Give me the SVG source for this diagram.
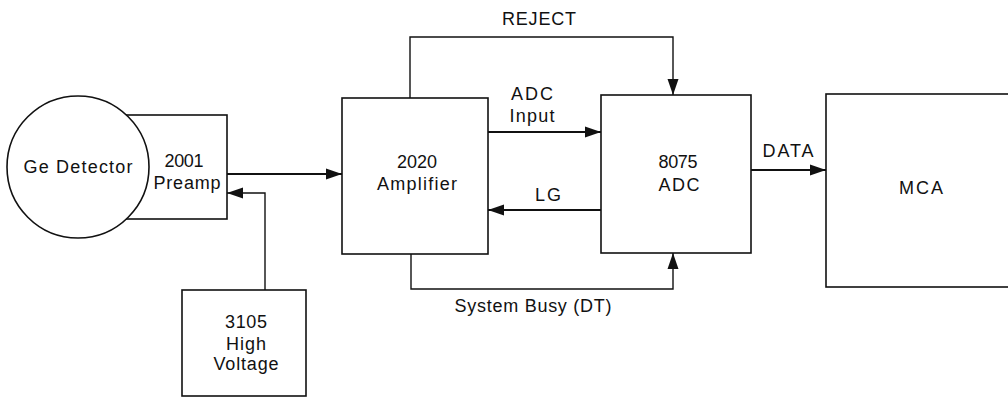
<svg xmlns="http://www.w3.org/2000/svg" width="1008" height="397" viewBox="0 0 1008 397">
<defs>
<style>
.box{fill:#fff;stroke:#111;stroke-width:1.6}
.ln{fill:none;stroke:#111;stroke-width:1.4}
.thick{fill:none;stroke:#111;stroke-width:2.2}
text{font-family:"Liberation Sans",Arial,sans-serif;font-size:18px;fill:#111;text-anchor:middle}
</style>
<marker id="ah" markerUnits="userSpaceOnUse" markerWidth="17" markerHeight="12" refX="16" refY="6" orient="auto">
<path d="M0,0.5 L16,6 L0,11.5 z" fill="#111"/>
</marker>
</defs>
<rect width="1008" height="397" fill="#fff"/>
<g id="preamp">
<rect class="box" x="115" y="115" width="112" height="104"/>
<text x="184" y="167" textLength="39" lengthAdjust="spacing">2001</text>
<text x="187" y="189" textLength="67" lengthAdjust="spacing">Preamp</text>
</g>
<g id="ge-detector">
<circle class="box" cx="78" cy="167" r="71"/>
<text x="78" y="173" textLength="109" lengthAdjust="spacing">Ge Detector</text>
</g>
<g id="high-voltage">
<rect class="box" x="182" y="290" width="124" height="106"/>
<text x="246" y="328" textLength="42" lengthAdjust="spacing">3105</text>
<text x="246" y="350" textLength="40" lengthAdjust="spacing">High</text>
<text x="246" y="370" textLength="65" lengthAdjust="spacing">Voltage</text>
</g>
<g id="amplifier">
<rect class="box" x="342" y="98" width="146" height="156"/>
<text x="417" y="168" textLength="40" lengthAdjust="spacing">2020</text>
<text x="417" y="190" textLength="80" lengthAdjust="spacing">Amplifier</text>
</g>
<g id="adc">
<rect class="box" x="601" y="95" width="150" height="158"/>
<text x="678" y="168" textLength="39" lengthAdjust="spacing">8075</text>
<text x="679" y="191" textLength="41" lengthAdjust="spacing">ADC</text>
</g>
<g id="mca">
<rect class="box" x="826" y="94" width="190" height="193"/>
<text x="921" y="194" textLength="44" lengthAdjust="spacing">MCA</text>
</g>
<g id="connectors">
<line class="thick" x1="227" y1="174" x2="342" y2="174" marker-end="url(#ah)"/>
<polyline class="ln" points="265,290 265,193 227,193" marker-end="url(#ah)"/>
<polyline class="ln" points="410,98 410,37 673,37 673,95" marker-end="url(#ah)"/>
<line class="thick" x1="488" y1="132" x2="601" y2="132" marker-end="url(#ah)"/>
<line class="thick" x1="601" y1="210" x2="488" y2="210" marker-end="url(#ah)"/>
<polyline class="ln" points="411,254 411,289 673,289 673,253" marker-end="url(#ah)"/>
<line class="thick" x1="751" y1="170" x2="826" y2="170" marker-end="url(#ah)"/>
</g>
<g id="labels">
<text x="539" y="25" textLength="74" lengthAdjust="spacing">REJECT</text>
<text x="532" y="100" textLength="42" lengthAdjust="spacing">ADC</text>
<text x="532" y="122" textLength="45" lengthAdjust="spacing">Input</text>
<text x="548" y="201" textLength="26" lengthAdjust="spacing">LG</text>
<text x="533" y="312" textLength="157" lengthAdjust="spacing">System Busy (DT)</text>
<text x="788" y="157" textLength="51" lengthAdjust="spacing">DATA</text>
</g>
</svg>
